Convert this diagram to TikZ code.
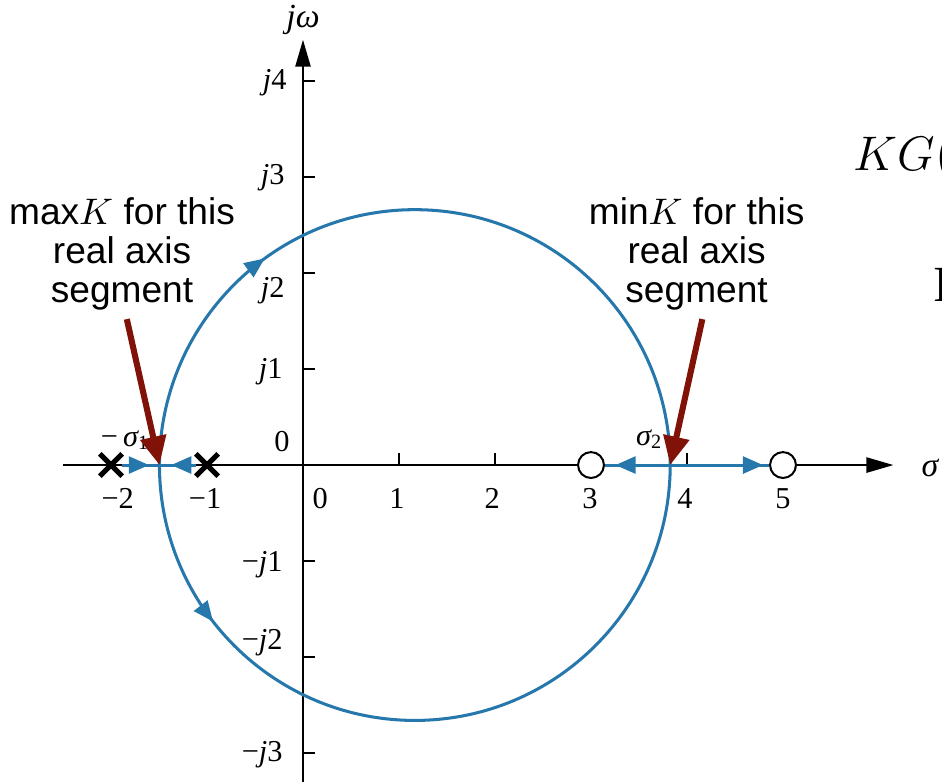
\documentclass[tikz,border=0pt]{standalone}
\usepackage{fontspec}
\setmainfont{Liberation Sans}
\newfontfamily\tms{Liberation Serif}
\usetikzlibrary{arrows.meta,shapes.misc,decorations.markings}
\definecolor{locusblue}{RGB}{38,120,172}
\definecolor{kred}{RGB}{128,18,8}

\begin{document}
\begin{tikzpicture}[
    axis/.style={line width=0.6pt, -{Triangle[length=8pt,width=4.5pt]}},
    tick/.style={line width=0.5pt},
    lbl/.style={font=\tms\fontsize{9}{10}\selectfont, inner sep=1pt},
    locus/.style={locusblue, line width=0.9pt},
    arrowat/.style={postaction={decorate}, decoration={markings,
        mark=at position #1 with {\arrow{Triangle[length=6pt,width=5pt]}}}},
    pole/.style={cross out, draw, line width=1.5pt, minimum size=0.18cm, inner sep=0pt},
    zero/.style={circle, draw, line width=0.6pt, fill=white, minimum size=0.27cm, inner sep=0pt},
    note/.style={font=\fontsize{11}{11.6}\selectfont, align=center, inner sep=1pt},
    kmark/.style={kred, line width=1.8pt, -{Triangle[length=8.5pt,width=7.5pt]}}
]
    % Frame
    \path[use as bounding box, clip] (-3.156,-3.292) rectangle (6.656,4.844);

    % Axes
    \coordinate (xl) at (-2.5,0);
    \coordinate (xr) at (6.15,0);
    \coordinate (yb) at (0,-3.3);
    \coordinate (yt) at (0,4.43);
    \draw[axis] (xl) -- (xr);
    \draw[axis] (yb) -- (yt);
    \foreach \y in {-3,-2,-1,1,2,3,4}
        \draw[tick] (0,\y) -- (0.13,\y);
    \foreach \x in {1,2,4}
        \draw[tick] (\x,0) -- (\x,0.13);
    \node[lbl, font=\tms\fontsize{10}{11}\selectfont] (jw) at (0,4.64) {\itshape jω};
    \node[lbl, font=\tms\fontsize{10}{11}\selectfont] (sg) at (6.53,-0.03) {\itshape σ};

    % Tick labels
    \node[lbl] (xm2) at (-1.93,-0.35) {−2};
    \node[lbl] (xm1) at (-1.02,-0.35) {−1};
    \node[lbl] (x0) at (0.18,-0.35) {0};
    \node[lbl] (x1) at (0.98,-0.35) {1};
    \node[lbl] (x2) at (1.97,-0.35) {2};
    \node[lbl] (x3) at (2.99,-0.35) {3};
    \node[lbl] (x4) at (3.98,-0.35) {4};
    \node[lbl] (x5) at (5,-0.35) {5};
    \node[lbl] (o0) at (-0.22,0.24) {0};
    \node[lbl, anchor=east] (y4) at (-0.13,3.98) {{\itshape j}4};
    \node[lbl, anchor=east] (y3) at (-0.15,2.99) {{\itshape j}3};
    \node[lbl, anchor=east] (y2) at (-0.15,1.82) {{\itshape j}2};
    \node[lbl, anchor=east] (y1) at (-0.17,0.97) {{\itshape j}1};
    \node[lbl, anchor=east] (ym1) at (-0.17,-1.04) {−{\itshape j}1};
    \node[lbl, anchor=east] (ym2) at (-0.17,-1.85) {−{\itshape j}2};
    \node[lbl, anchor=east] (ym3) at (-0.17,-3.02) {−{\itshape j}3};

    % Poles, zeros and breakaway points
    \coordinate (s1) at (-1.495,0);
    \coordinate (s2) at (3.825,0);
    \node[pole] (p1) at (-2,0) {};
    \node[pole] (p2) at (-1,0) {};
    \node[zero] (z1) at (3,0) {};
    \node[zero] (z2) at (5,0) {};
    \node[lbl] (sg1) at (-1.85,0.26) {−\,{\itshape σ}\textsubscript{1}};
    \node[lbl] (sg2) at (3.61,0.27) {{\itshape σ}\textsubscript{2}};

    % Root locus
    \draw[locus, arrowat=0.3] (s1) arc[start angle=180, end angle=0, radius=2.66];
    \draw[locus, arrowat=0.21] (s1) arc[start angle=180, end angle=360, radius=2.66];
    \draw[locus, arrowat=0.72] (p1) -- (s1);
    \draw[locus, arrowat=0.68] (p2) -- (s1);
    \draw[locus, arrowat=0.84] (s2) -- (z1);
    \draw[locus, arrowat=0.94] (s2) -- (z2);

    % Notes
    \node[note] (maxtxt) at (-1.885,2.2) {max$K$ for this\\real axis\\segment};
    \node[note] (mintxt) at (4.10,2.2) {min$K$ for this\\real axis\\segment};
    \draw[kmark] ([xshift=0.05cm,yshift=-0.05cm]maxtxt.south) -- (s1);
    \draw[kmark] ([xshift=0.06cm,yshift=-0.05cm]mintxt.south) -- (s2);

    % Cut-off text at the right edge
    \node[font=\fontsize{14}{16}\selectfont, anchor=base west, inner sep=0pt] (kg) at (5.73,3.07) {$KG(s)$};
    \node[font=\tms\fontsize{15}{17}\selectfont, anchor=base west, inner sep=0pt] (ie) at (6.56,1.70) {I};
\end{tikzpicture}
\end{document}
